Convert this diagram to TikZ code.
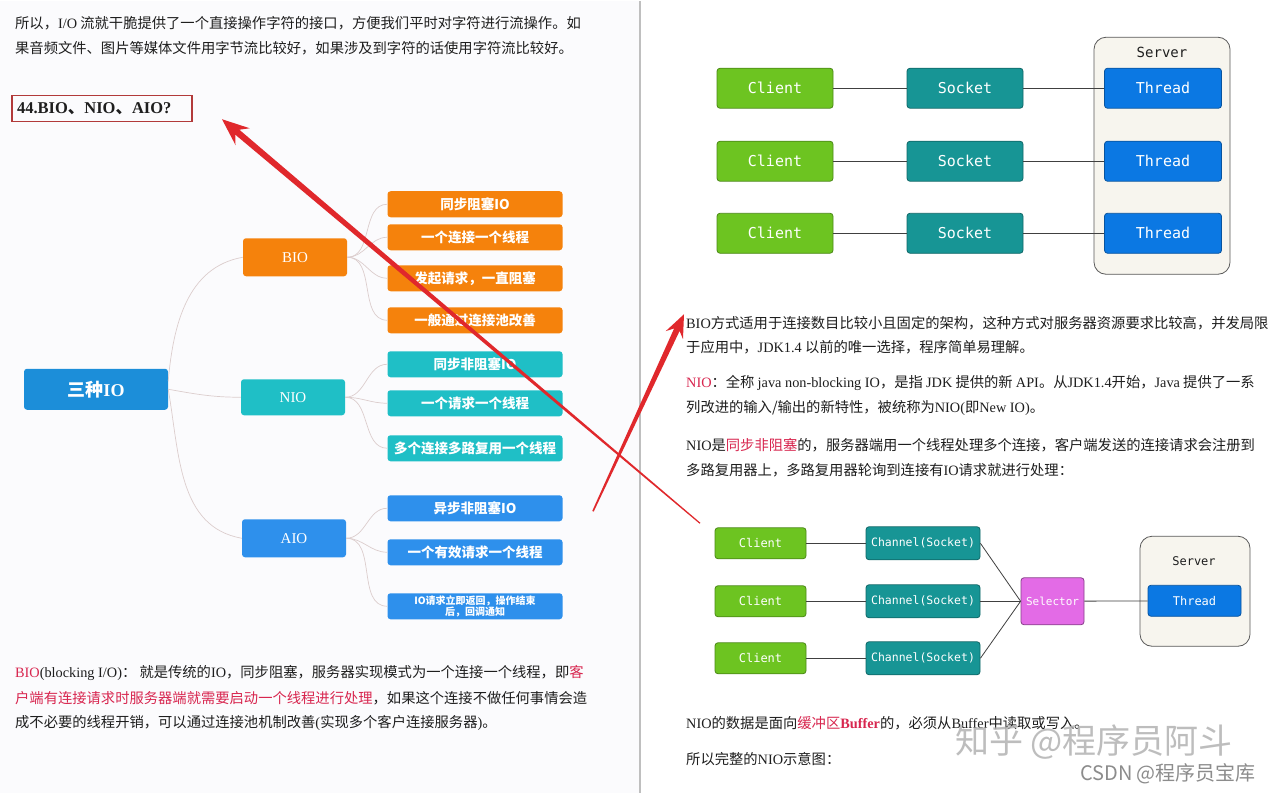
\documentclass[tikz,border=0pt]{standalone}
\usepackage{fontspec}
\setmainfont{Liberation Serif}
\newfontfamily\zh{Noto Sans CJK SC}
\newfontfamily\mono{DejaVu Sans Mono}
\usetikzlibrary{calc}
\definecolor{ink}{HTML}{1E1E1E}
\definecolor{hired}{HTML}{D8264F}
\definecolor{boxred}{HTML}{B23A3A}
\definecolor{arred}{HTML}{E0282C}
\definecolor{bioor}{HTML}{F5820C}
\definecolor{nioteal}{HTML}{1FBFC6}
\definecolor{aioblue}{HTML}{2E90EC}
\definecolor{rootblue}{HTML}{1C8ED9}
\definecolor{mmline}{HTML}{DCCDCD}
\definecolor{cligreen}{HTML}{6DC421}
\definecolor{sockteal}{HTML}{179595}
\definecolor{thrblue}{HTML}{0B78E3}
\definecolor{srvbg}{HTML}{F7F5EE}
\definecolor{selmag}{HTML}{E36BE6}
\definecolor{pagebg}{HTML}{FBFBFD}
\newcommand{\hl}[1]{\textcolor{hired}{#1}}

\begin{document}
\begin{tikzpicture}[x=1pt,y=-1pt,
  txt/.style={anchor=west,inner sep=0,text=ink,font=\zh\fontsize{14.3}{16}\selectfont},
  mmbox/.style={rounded corners=3,inner sep=0,text=white},
  leaf/.style={mmbox,minimum width=175,minimum height=26,font=\zh\bfseries\fontsize{13.5}{14}\selectfont},
  branch/.style={mmbox,minimum width=104,minimum height=38,font=\fontsize{15}{15}\selectfont},
  mmwire/.style={draw=mmline,line width=0.7},
  dbox/.style={rounded corners=3,line width=0.8,inner sep=0,text=white},
  cli/.style={dbox,fill=cligreen,draw=cligreen!70!black},
  sock/.style={dbox,fill=sockteal,draw=sockteal!70!black},
  thr/.style={dbox,fill=thrblue,draw=thrblue!70!black},
  srv/.style={draw=black!65,fill=srvbg,rounded corners=12,line width=0.8,inner sep=0},
  wire/.style={draw=black!75,line width=0.8}]
  \fill[pagebg] (0,0) rectangle (640,792);
  \fill[white] (640,0) rectangle (1280,792);
  \draw[black!25,line width=2.5] (640,0) -- (640,792);
  \useasboundingbox (0,0) rectangle (1280,792);

  \node (t1) at (15,22) [txt]{所以，{\rmfamily I/O} 流就干脆提供了一个直接操作字符的接口，方便我们平时对字符进行流操作。如};
  \node (t2) at (15,47) [txt]{果音频文件、图片等媒体文件用字节流比较好，如果涉及到字符的话使用字符流比较好。};
  \node (head) at (102,107) [draw=boxred,line width=1.1,minimum width=180,minimum height=26,text width=170,align=left,inner sep=0,text=ink,font=\bfseries\fontsize{16.5}{16}\selectfont]{44.BIO{\zh 、}NIO{\zh 、}AIO?};

  \node (root) at (96,388) [mmbox,fill=rootblue,minimum width=144,minimum height=41,font=\zh\bfseries\fontsize{18}{18}\selectfont]{三种{\rmfamily IO}};
  \node (bio) at (295,256) [branch,fill=bioor]{BIO};
  \node (nio) at (293,396) [branch,fill=nioteal,minimum height=36]{NIO};
  \node (aio) at (294,537) [branch,fill=aioblue]{AIO};
  \draw[mmwire] ([yshift=8]root.east) to[out=85,in=190] (bio.west);
  \draw[mmwire] (root.east) to[out=-10,in=180] (nio.west);
  \draw[mmwire] (root.east) to[out=-80,in=170] (aio.west);
  \foreach \n/\y/\t in {1/203/{同步阻塞IO},2/236/{一个连接一个线程},3/277/{发起请求，一直阻塞},4/319/{一般通过连接池改善}}
  {
    \node (b\n) at (475,\y) [leaf,fill=bioor]{\t};
    \draw[mmwire] (bio.east) to[out=0,in=180] (b\n.west);
  }
  \foreach \n/\y/\t in {1/363/{同步非阻塞IO},2/402/{一个请求一个线程},3/447/{多个连接多路复用一个线程}}
  {
    \node (n\n) at (475,\y) [leaf,fill=nioteal]{\t};
    \draw[mmwire] (nio.east) to[out=0,in=180] (n\n.west);
  }
  \foreach \n/\y/\t in {1/507/{异步非阻塞IO},2/551/{一个有效请求一个线程}}
  {
    \node (a\n) at (475,\y) [leaf,fill=aioblue]{\t};
    \draw[mmwire] (aio.east) to[out=0,in=180] (a\n.west);
  }
  \node (a3) at (475,605) [leaf,fill=aioblue,align=center,font=\zh\bfseries\fontsize{10}{11}\selectfont]{IO请求立即返回，操作结束\\后，回调通知};
  \draw[mmwire] (aio.east) to[out=0,in=180] (a3.west);

  \node (l1) at (15,672) [txt]{\hl{\rmfamily BIO}{\rmfamily (blocking I/O)}： 就是传统的{\rmfamily IO}，同步阻塞，服务器实现模式为一个连接一个线程，即\hl{客}};
  \node (l2) at (15,697) [txt]{\hl{户端有连接请求时服务器端就需要启动一个线程进行处理}，如果这个连接不做任何事情会造};
  \node (l3) at (15,722) [txt]{成不必要的线程开销，可以通过连接池机制改善{\rmfamily (}实现多个客户连接服务器{\rmfamily )}。};

  \node (srvA) at (1162,154.5) [srv,minimum width=136,minimum height=237]{};
  \node (srvAl) at (1162,51) [text=ink,font=\mono\fontsize{14}{14}\selectfont]{Server};
  \foreach \i/\y in {1/87,2/160,3/232}
  {
    \node (c\i) at (775,\y) [cli,minimum width=116,minimum height=40,font=\mono\fontsize{15}{15}\selectfont]{Client};
    \node (s\i) at (965,\y) [sock,minimum width=116,minimum height=40,font=\mono\fontsize{15}{15}\selectfont]{Socket};
    \node (t\i) at (1163,\y) [thr,minimum width=117,minimum height=40,font=\mono\fontsize{15}{15}\selectfont]{Thread};
    \draw[wire] (c\i) -- (s\i);
    \draw[wire] (s\i) -- (t\i);
  }

  \node (r1) at (686,322) [txt]{{\rmfamily BIO}方式适用于连接数目比较小且固定的架构，这种方式对服务器资源要求比较高，并发局限};
  \node (r2) at (686,346) [txt]{于应用中，{\rmfamily JDK1.4} 以前的唯一选择，程序简单易理解。};
  \node (r3) at (686,382) [txt]{\hl{\rmfamily NIO}：全称 {\rmfamily java non-blocking IO}，是指 {\rmfamily JDK} 提供的新 {\rmfamily API}。从{\rmfamily JDK1.4}开始，{\rmfamily Java} 提供了一系};
  \node (r4) at (686,407) [txt]{列改进的输入/输出的新特性，被统称为{\rmfamily NIO(}即{\rmfamily New IO)}。};
  \node (r5) at (686,444) [txt]{{\rmfamily NIO}是\hl{同步非阻塞}的，服务器端用一个线程处理多个连接，客户端发送的连接请求会注册到};
  \node (r6) at (686,469) [txt]{多路复用器上，多路复用器轮询到连接有{\rmfamily IO}请求就进行处理：};

  \node (srvB) at (1195,590) [srv,minimum width=110,minimum height=110]{};
  \node (srvBl) at (1194,560) [text=ink,font=\mono\fontsize{12}{12}\selectfont]{Server};
  \node (thB) at (1194.5,599.5) [thr,minimum width=93,minimum height=31,font=\mono\fontsize{12}{12}\selectfont]{Thread};
  \node (sel) at (1052.5,600) [dbox,fill=selmag,draw=selmag!60!black,minimum width=63,minimum height=47,font=\mono\fontsize{11}{11}\selectfont]{Selector};
  \foreach \i/\y in {1/542,2/600,3/657}
  {
    \node (nc\i) at (760.5,\y) [cli,minimum width=91,minimum height=31,font=\mono\fontsize{12}{12}\selectfont]{Client};
    \node (ch\i) at (923,\y) [sock,minimum width=114,minimum height=33,font=\mono\fontsize{11.5}{12}\selectfont]{Channel(Socket)};
    \draw[wire] (nc\i) -- (ch\i);
    \draw[wire] (ch\i.east) -- (sel.west);
  }
  \draw[wire] (sel) -- (thB);

  \node (r7) at (686,722) [txt]{{\rmfamily NIO}的数据是面向\hl{缓冲区{\rmfamily\bfseries Buffer}}的，必须从{\rmfamily Buffer}中读取或写入。};
  \node (r8) at (686,758) [txt]{所以完整的{\rmfamily NIO}示意图：};

  \coordinate (aA) at (700,522);
  \coordinate (aAh) at (222,118);
  \coordinate (aAn) at ($(aAh)!20pt!(aA)$);
  \coordinate (aAb) at ($(aAh)!27pt!(aA)$);
  \fill[arred] ($(aA)!0.6pt!-90:(aAh)$) -- ($(aAn)!3.2pt!90:(aA)$) -- ($(aAb)!11pt!90:(aA)$) -- (aAh)
    -- ($(aAb)!11pt!-90:(aA)$) -- ($(aAn)!3.2pt!-90:(aA)$) -- ($(aA)!0.6pt!90:(aAh)$) -- cycle;
  \coordinate (aB) at (593,510);
  \coordinate (aBh) at (684,313);
  \coordinate (aBn) at ($(aBh)!17pt!(aB)$);
  \coordinate (aBb) at ($(aBh)!23pt!(aB)$);
  \fill[arred] ($(aB)!0.8pt!-90:(aBh)$) -- ($(aBn)!3pt!90:(aB)$) -- ($(aBb)!9.5pt!90:(aB)$) -- (aBh)
    -- ($(aBb)!9.5pt!-90:(aB)$) -- ($(aBn)!3pt!-90:(aB)$) -- ($(aB)!0.8pt!90:(aBh)$) -- cycle;

  \node (wm1) at (1094,741) [text=black!30,opacity=0.85,font=\zh\fontsize{34}{34}\selectfont]{知乎 @程序员阿斗};
  \node (wm2) at (1168,772) [text=black!45,font=\zh\fontsize{20}{20}\selectfont]{CSDN @程序员宝库};
\end{tikzpicture}
\end{document}
